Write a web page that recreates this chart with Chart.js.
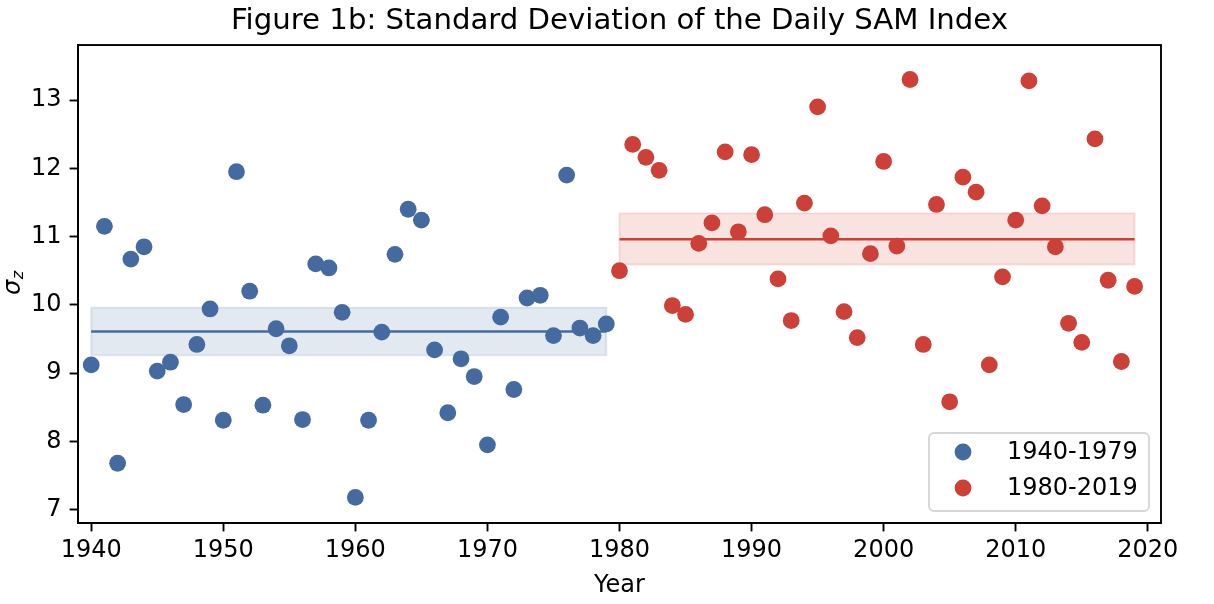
<!DOCTYPE html>
<html>
<head>
<meta charset="utf-8">
<script src="https://cdn.jsdelivr.net/npm/chart.js@4/dist/chart.umd.min.js"></script>
<style>
html,body{margin:0;padding:0;background:#fff;}
canvas{display:block;}
</style>
</head>
<body>
<canvas id="c" width="1214" height="604"></canvas>
<script>
// ---- data ----
const yearsA = [1940,1941,1942,1943,1944,1945,1946,1947,1948,1949,1950,1951,1952,1953,1954,1955,1956,1957,1958,1959,1960,1961,1962,1963,1964,1965,1966,1967,1968,1969,1970,1971,1972,1973,1974,1975,1976,1977,1978,1979];
const valuesA = [9.12,11.15,7.68,10.67,10.85,9.03,9.16,8.54,9.42,9.94,8.31,11.95,10.20,8.53,9.65,9.40,8.32,10.60,10.54,9.89,7.18,8.31,9.60,10.74,11.40,11.24,9.34,8.42,9.21,8.95,7.95,9.82,8.76,10.10,10.14,9.55,11.90,9.66,9.55,9.72];
const yearsB = [1980,1981,1982,1983,1984,1985,1986,1987,1988,1989,1990,1991,1992,1993,1994,1995,1996,1997,1998,1999,2000,2001,2002,2003,2004,2005,2006,2007,2008,2009,2010,2011,2012,2013,2014,2015,2016,2017,2018,2019];
const valuesB = [10.50,12.35,12.16,11.97,9.99,9.86,10.90,11.20,12.24,11.07,12.20,11.32,10.38,9.77,11.49,12.90,11.01,9.90,9.52,10.75,12.10,10.86,13.30,9.42,11.47,8.58,11.87,11.65,9.12,10.41,11.24,13.28,11.45,10.85,9.73,9.45,12.43,10.36,9.17,10.27];
const labelA = '1940-1979';
const labelB = '1980-2019';
const meanA = 9.61, lowA = 9.26, highA = 9.96;
const meanB = 10.96, lowB = 10.59, highB = 11.34;
const xTicks = [1940,1950,1960,1970,1980,1990,2000,2010,2020];
const yTicks = [7,8,9,10,11,12,13];
const titleText = 'Figure 1b: Standard Deviation of the Daily SAM Index';
const xTitle = 'Year';

// ---- styles ----
const BLUE = 'rgb(68,106,160)';
const RED = 'rgb(205,64,56)';
const BLUE_A = 'rgba(68,106,160,0.15)';
const RED_A = 'rgba(205,64,56,0.15)';
const FONT = "'DejaVu Sans', sans-serif";

function pts(xs, ys){ return xs.map((x,i)=>({x:x, y:ys[i]})); }
function rect(x0,x1,lo,hi){ return [{x:x0,y:lo},{x:x0,y:hi},{x:x1,y:hi},{x:x1,y:lo},{x:x0,y:lo}]; }
function hline(x0,x1,y){ return [{x:x0,y:y},{x:x1,y:y}]; }

const A0 = yearsA[0], A1 = yearsA[yearsA.length-1];
const B0 = yearsB[0], B1 = yearsB[yearsB.length-1];

const frame = {
  id:'frame',
  afterDatasetsDraw(chart){
    const {ctx, chartArea:a} = chart;
    ctx.save();
    ctx.strokeStyle = '#000';
    ctx.lineWidth = 1.9;
    ctx.strokeRect(a.left, a.top, a.right-a.left, a.bottom-a.top);
    ctx.restore();
  },
  afterDraw(chart){
    const ctx = chart.ctx;
    // y-axis title sigma_z
    ctx.save();
    ctx.fillStyle = '#000';
    ctx.translate(20, 295);
    ctx.rotate(-Math.PI/2);
    ctx.textBaseline = 'alphabetic';
    ctx.textAlign = 'left';
    ctx.font = "italic 24px " + FONT;
    ctx.fillText('σ', 0, 0);
    const w = ctx.measureText('σ').width;
    ctx.font = "italic 16px " + FONT;
    ctx.fillText('z', w + 0.5, 3);
    ctx.restore();

    // legend
    const items = chart.data.datasets.filter(d => d.showInLegend);
    const bx = 929, by = 433, bw = 220, bh = 78;
    ctx.save();
    ctx.beginPath();
    if (ctx.roundRect) ctx.roundRect(bx, by, bw, bh, 5); else ctx.rect(bx,by,bw,bh);
    ctx.fillStyle = 'rgba(255,255,255,0.8)';
    ctx.fill();
    ctx.strokeStyle = '#d6d6d6';
    ctx.lineWidth = 1.9;
    ctx.stroke();
    items.forEach((d,i) => {
      const cy = 452 + i*36;
      ctx.beginPath();
      ctx.arc(963, cy, 8.4, 0, Math.PI*2);
      ctx.fillStyle = d.backgroundColor;
      ctx.fill();
      ctx.fillStyle = '#000';
      ctx.font = "24px " + FONT;
      ctx.textBaseline = 'middle';
      ctx.textAlign = 'left';
      ctx.fillText(d.label, 1007, cy + 1);
    });
    ctx.restore();
  }
};

new Chart(document.getElementById('c'), {
  type: 'scatter',
  data: {
    datasets: [
      { label: labelA, data: pts(yearsA, valuesA), backgroundColor: BLUE, borderWidth: 0, pointRadius: 8.4, pointHoverRadius: 8.4, order: 1, showInLegend: true },
      { label: labelB, data: pts(yearsB, valuesB), backgroundColor: RED, borderWidth: 0, pointRadius: 8.4, pointHoverRadius: 8.4, order: 1, showInLegend: true },
      { label: 'meanA', data: hline(A0, A1, meanA), showLine: true, borderColor: BLUE, borderWidth: 2.4, pointRadius: 0, fill: false, order: 2 },
      { label: 'meanB', data: hline(B0, B1, meanB), showLine: true, borderColor: RED, borderWidth: 2.4, pointRadius: 0, fill: false, order: 2 },
      { label: 'bandA', data: rect(A0, A1, lowA, highA), showLine: true, borderColor: BLUE_A, backgroundColor: BLUE_A, borderWidth: 1.9, pointRadius: 0, fill: 'shape', order: 3 },
      { label: 'bandB', data: rect(B0, B1, lowB, highB), showLine: true, borderColor: RED_A, backgroundColor: RED_A, borderWidth: 1.9, pointRadius: 0, fill: 'shape', order: 3 }
    ]
  },
  options: {
    responsive: false,
    animation: false,
    devicePixelRatio: 1,
    layout: { padding: { left: 0, right: 53, top: 0, bottom: 0 } },
    plugins: {
      legend: { display: false },
      tooltip: { enabled: false },
      title: {
        display: true, text: titleText, fullSize: false,
        color: '#000', font: { family: FONT, size: 29.2, weight: 'normal', lineHeight: 1.2 },
        padding: { top: 4, bottom: 6 }
      }
    },
    scales: {
      x: {
        type: 'linear', min: 1939, max: 2021,
        afterBuildTicks: s => { s.ticks = xTicks.map(v => ({ value: v })); },
        afterFit: s => { s.height = 81; },
        ticks: { color: '#000', font: { family: FONT, size: 24 }, padding: 5, maxRotation: 0, autoSkip: false, callback: v => String(v) },
        grid: { display: true, drawOnChartArea: false, drawTicks: true, tickLength: 8.4, tickWidth: 1.9, tickColor: '#000' },
        border: { display: true, color: '#000', width: 1.9 },
        title: { display: true, text: xTitle, color: '#000', font: { family: FONT, size: 24 }, padding: { top: 4, bottom: 4 } }
      },
      y: {
        type: 'linear', min: 6.805, max: 13.805,
        afterBuildTicks: s => { s.ticks = yTicks.map(v => ({ value: v })); },
        afterFit: s => { s.width = 78; },
        ticks: { color: '#000', font: { family: FONT, size: 24 }, padding: 8, autoSkip: false, callback: v => String(v) },
        grid: { display: true, drawOnChartArea: false, drawTicks: true, tickLength: 8.4, tickWidth: 1.9, tickColor: '#000' },
        border: { display: true, color: '#000', width: 1.9 }
      }
    }
  },
  plugins: [frame]
});
</script>
</body>
</html>
